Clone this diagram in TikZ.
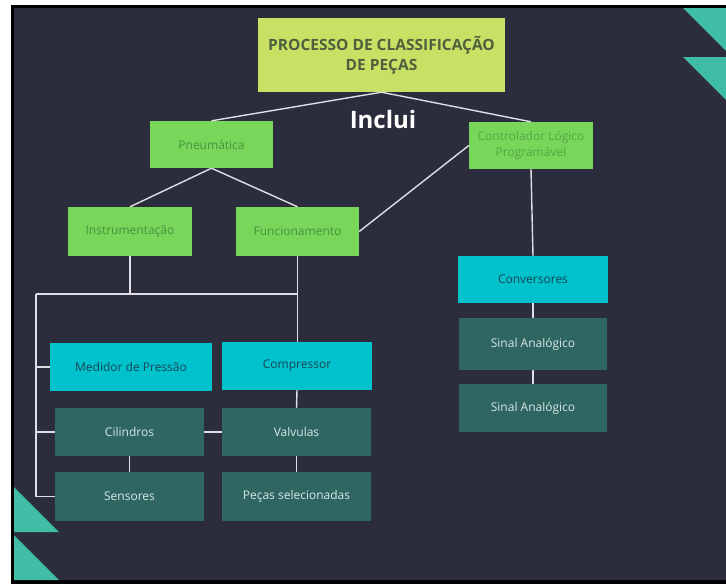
\documentclass[tikz,border=0pt]{standalone}
\usepackage{fontspec}
\setmainfont{Open Sans}
\usetikzlibrary{positioning}

\definecolor{bgdark}{RGB}{43,45,60}
\definecolor{boxlime}{RGB}{200,224,100}
\definecolor{boxgreen}{RGB}{120,214,90}
\definecolor{boxcyan}{RGB}{0,194,204}
\definecolor{boxteal}{RGB}{47,102,98}
\definecolor{triteal}{RGB}{64,190,165}
\definecolor{txtlime}{RGB}{78,96,62}
\definecolor{txtgreen}{RGB}{70,146,60}
\definecolor{txtcyan}{RGB}{24,70,86}
\definecolor{txtteal}{RGB}{214,232,230}
\definecolor{linegray}{RGB}{222,222,228}

\begin{document}
\begin{tikzpicture}[x=1pt, y=-1pt, line join=bevel]
    \tikzset{%
      basebox/.style  = {rectangle, inner sep=0pt, align=center,
                         font=\fontsize{12}{16}\selectfont},
      titlebox/.style = {basebox, fill=boxlime, text=txtlime,
                         font=\fontsize{15.5}{20}\selectfont\bfseries},
      greenbox/.style = {basebox, fill=boxgreen, text=txtgreen},
      cyanbox/.style  = {basebox, fill=boxcyan, text=txtcyan},
      tealbox/.style  = {basebox, fill=boxteal, text=txtteal},
      link/.style     = {draw=linegray, line width=1.4pt},
      corner/.style   = {fill=triteal}
    }

    % frame and background
    \useasboundingbox (0,0) rectangle (726,584);
    \fill[white]  (0,0)  rectangle (726,584);
    \fill[black]  (11,5) rectangle (726,584);
    \fill[bgdark] (14,8) rectangle (726,580);

    % corner triangles
    \fill[corner] (683,8)   -- (726,8)   -- (726,51)  -- cycle;
    \fill[corner] (683,57)  -- (726,57)  -- (726,100) -- cycle;
    \fill[corner] (14,487)  -- (14,532)  -- (59,532)  -- cycle;
    \fill[corner] (14,535)  -- (14,580)  -- (59,580)  -- cycle;

    % boxes
    \node[titlebox, minimum width=247pt, minimum height=74pt] (title) at (381.5,55)
      {PROCESSO DE CLASSIFICAÇÃO\\DE PEÇAS};
    \node[text=white, font=\fontsize{24}{26}\selectfont\bfseries] (inclui) at (383,119) {Inclui};

    \node[greenbox, minimum width=123pt, minimum height=47pt] (pneu)  at (211.5,144.5) {Pneumática};
    \node[greenbox, minimum width=124pt, minimum height=47pt, text=txtgreen!70!boxgreen]
      (clp) at (531,145.5) {Controlador Lógico\\Programável};
    \node[greenbox, minimum width=124pt, minimum height=49pt] (instr) at (130,231.5) {Instrumentação};
    \node[greenbox, minimum width=123pt, minimum height=49pt] (func)  at (297.5,231.5) {Funcionamento};

    \node[cyanbox, minimum width=150pt, minimum height=47pt] (conv)    at (533,279.5) {Conversores};
    \node[tealbox, minimum width=148pt, minimum height=52pt] (sinalA)  at (533,344)   {Sinal Analógico};
    \node[tealbox, minimum width=148pt, minimum height=48pt] (sinalB)  at (533,408)   {Sinal Analógico};

    \node[cyanbox, minimum width=162pt, minimum height=48pt] (medidor) at (131,367)   {Medidor de Pressão};
    \node[cyanbox, minimum width=150pt, minimum height=48pt] (compr)   at (297,366)   {Compressor};
    \node[tealbox, minimum width=149pt, minimum height=48pt] (cilin)   at (129.5,432) {Cilindros};
    \node[tealbox, minimum width=149pt, minimum height=48pt] (valv)    at (296.5,432) {Valvulas};
    \node[tealbox, minimum width=149pt, minimum height=49pt] (senso)   at (129.5,496.5) {Sensores};
    \node[tealbox, minimum width=149pt, minimum height=49pt] (pecas)   at (296.5,496.5) {Peças selecionadas};

    % connectors
    \draw[link] (pneu.north) -- (title.south) -- (clp.north);
    \draw[link] (instr.north) -- (pneu.south) -- (func.north);
    \draw[link] (func.east) -- (clp.west);
    \draw[link] (clp.south) -- (conv.north);
    \draw[link] (conv.south) -- (sinalA.north);
    \draw[link] (sinalA.south) -- (sinalB.north);

    \coordinate (busL) at (36,294);
    \coordinate (busR) at (func.south |- busL);
    \draw[link] (instr.south) -- (instr.south |- busL);
    \draw[link] (busL) -- (busR);
    \draw[link] (func.south) -- (func.south |- compr.north);
    \draw[link] (busL) |- (senso.west);
    \draw[link] (busL |- medidor.west) -- (medidor.west);
    \draw[link] (busL |- cilin.west) -- (cilin.west);
    \draw[link] (cilin.east) -- (valv.west);
    \draw[link] (cilin.south) -- (senso.north);
    \draw[link] (compr.south) -- (valv.north);
    \draw[link] (valv.south) -- (pecas.north);
\end{tikzpicture}
\end{document}
